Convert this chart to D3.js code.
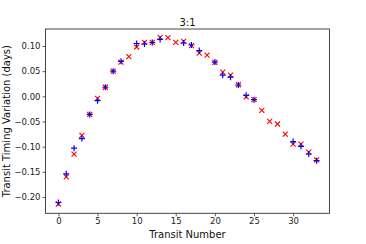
<!DOCTYPE html>
<html><head><meta charset="utf-8">
<script src="https://cdn.jsdelivr.net/npm/d3@7"></script>
<style>body{margin:0;background:#fff}svg{display:block}text{font-family:"DejaVu Sans",sans-serif}</style>
</head><body><svg id="c" width="366" height="244"></svg>
<script>
const title = "3:1";
const xLabel = "Transit Number";
const yLabel = "Transit Timing Variation (days)";
const xTicks = [0, 5, 10, 15, 20, 25, 30];
const yTicks = [-0.20, -0.15, -0.10, -0.05, 0.00, 0.05, 0.10];
const redX = [0,1,2,3,4,5,6,7,8,9,10,11,12,13,14,15,16,17,18,19,20,21,22,23,24,25,26,27,28,29,30,31,32,33];
const redY = [-0.214,-0.160,-0.115,-0.0775,-0.036,-0.004,0.018,0.050,0.068,0.079,0.098,0.107,0.107,0.117,0.1166,0.107,0.109,0.1007,0.086,0.082,0.0675,0.048,0.042,0.023,-0.001,-0.0066,-0.028,-0.050,-0.055,-0.075,-0.095,-0.095,-0.111,-0.1265];
const blueX = [0,1,2,3,4,5,6,7,8,10,11,12,13,16,17,18,20,21,22,23,24,25,30,31,32,33];
const blueY = [-0.211,-0.154,-0.103,-0.084,-0.036,-0.0086,0.018,0.050,0.0695,0.105,0.104,0.107,0.113,0.106,0.102,0.091,0.068,0.042,0.038,0.0225,0.002,-0.0066,-0.090,-0.0993,-0.1146,-0.128];

const svg = d3.select("#c");
const L = 45.5, R = 329.5, T = 29, B = 213.3;
const x = d3.scaleLinear().domain([-1.65, 34.65]).range([L, R]);
const y = d3.scaleLinear().domain([-0.2325, 0.1338]).range([B, T]);

const xa = svg.append("g").attr("transform", `translate(0,${B})`)
  .call(d3.axisBottom(x).tickValues(xTicks).tickFormat(d3.format("d")).tickSize(3).tickPadding(2));
const ya = svg.append("g").attr("transform", `translate(${L},0)`)
  .call(d3.axisLeft(y).tickValues(yTicks).tickFormat(d => d3.format(".2f")(d).replace("-", "\u2212")).tickSize(3).tickPadding(2));
[xa, ya].forEach(a => {
  a.select(".domain").remove();
  a.selectAll("text").attr("font-size", 8.5).attr("fill", "#222").attr("font-family", "DejaVu Sans");
  a.selectAll("line").attr("stroke", "#333").attr("stroke-width", 0.8);
});

svg.append("rect").attr("x", L).attr("y", T).attr("width", R - L).attr("height", B - T)
  .attr("fill", "none").attr("stroke", "#333").attr("stroke-width", 0.9);

const s = 2.5;
const rg = svg.append("g").attr("stroke", "#ff0000").attr("stroke-width", 1.1);
redX.forEach((d, i) => {
  const cx = x(d), cy = y(redY[i]);
  rg.append("path").attr("d", `M${cx - s},${cy - s}L${cx + s},${cy + s}M${cx - s},${cy + s}L${cx + s},${cy - s}`);
});
const bs = 3;
const bg = svg.append("g").attr("stroke", "#0000ff").attr("stroke-width", 1.2);
blueX.forEach((d, i) => {
  const cx = x(d), cy = y(blueY[i]);
  bg.append("path").attr("d", `M${cx - bs},${cy}L${cx + bs},${cy}M${cx},${cy - bs}L${cx},${cy + bs}`);
});

svg.append("text").attr("x", (L + R) / 2).attr("y", 25.5).attr("text-anchor", "middle")
  .attr("font-size", 10).attr("fill", "#111").text(title);
svg.append("text").attr("x", (L + R) / 2).attr("y", 237.5).attr("text-anchor", "middle")
  .attr("font-size", 10).attr("fill", "#111").text(xLabel);
svg.append("text").attr("transform", `translate(9.5,${(T + B) / 2}) rotate(-90)`).attr("text-anchor", "middle")
  .attr("font-size", 10).attr("fill", "#111").text(yLabel);
</script></body></html>
